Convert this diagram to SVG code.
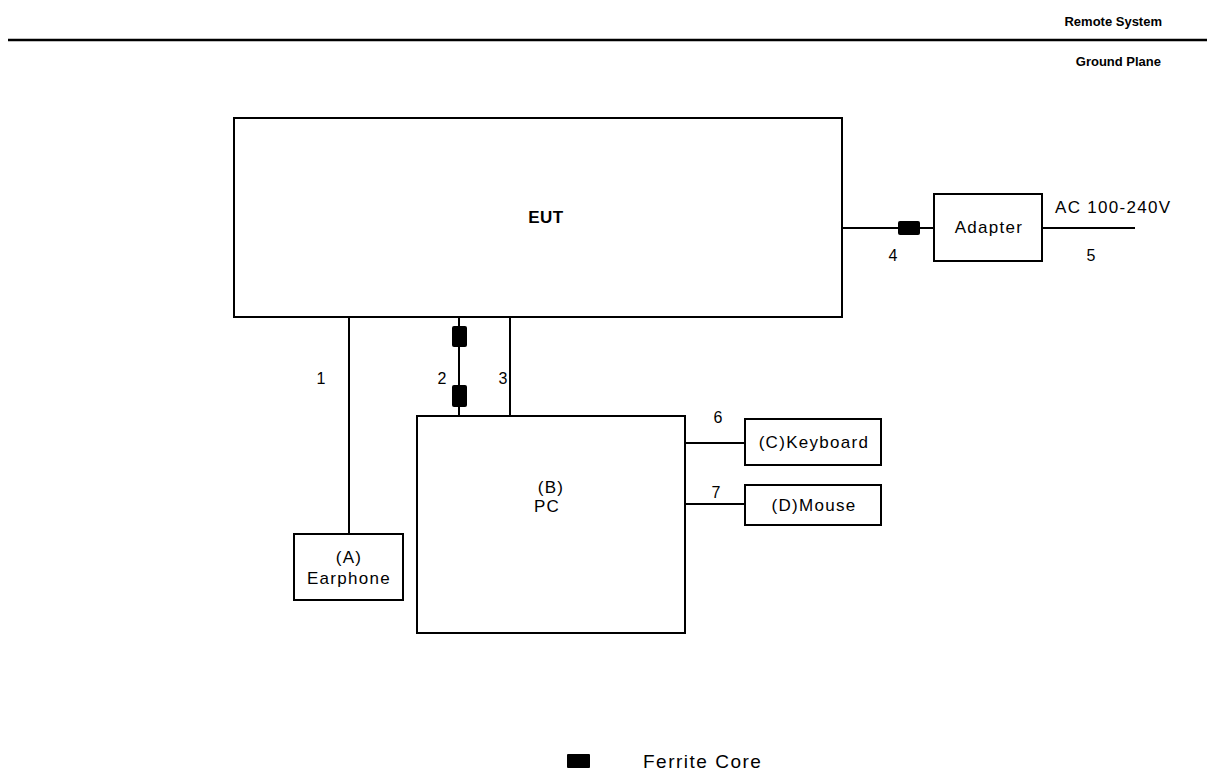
<svg xmlns="http://www.w3.org/2000/svg" width="1207" height="772" viewBox="0 0 1207 772">
<style>
.box{fill:#fff;stroke:#000;stroke-width:2}
.w{stroke:#000;stroke-width:2;fill:none}
.fc{fill:#000}
text{font-family:"Liberation Sans",Arial,sans-serif;font-size:17px;letter-spacing:1.3px;fill:#000}
.c{text-anchor:middle}
.b{font-weight:bold}
.s{font-size:13px;letter-spacing:0}
.n{font-size:16px;letter-spacing:0}
</style>
<rect width="1207" height="772" fill="#fff"/>
<g id="header">
<line x1="8" y1="40" x2="1207" y2="40" stroke="#000" stroke-width="2.5"/>
<text x="1162" y="26" text-anchor="end" class="s b">Remote System</text>
<text x="1161" y="66" text-anchor="end" class="s b">Ground Plane</text>
</g>
<g id="connectors">
<line class="w" x1="842" y1="228" x2="934" y2="228"/>
<line class="w" x1="1042" y1="228" x2="1135" y2="228"/>
<line class="w" x1="349" y1="317" x2="349" y2="534"/>
<line class="w" x1="459" y1="317" x2="459" y2="416"/>
<line class="w" x1="510" y1="317" x2="510" y2="416"/>
<line class="w" x1="685" y1="443" x2="745" y2="443"/>
<line class="w" x1="685" y1="504" x2="745" y2="504"/>
<rect class="fc" x="898" y="221" width="22" height="14" rx="2"/>
<rect class="fc" x="452" y="326" width="15" height="21" rx="2"/>
<rect class="fc" x="452" y="385" width="15" height="22" rx="2"/>
<text x="893" y="261" class="c n">4</text>
<text x="1091" y="261" class="c n">5</text>
<text x="1055" y="213">AC 100-240V</text>
<text x="321" y="384" class="c n">1</text>
<text x="442" y="384" class="c n">2</text>
<text x="503" y="384" class="c n">3</text>
<text x="718" y="423" class="c n">6</text>
<text x="716" y="498" class="c n">7</text>
</g>
<g id="eut">
<rect class="box" x="234" y="118" width="608" height="199"/>
<text x="546" y="223" class="c b" style="font-size:17px;letter-spacing:0.5px">EUT</text>
</g>
<g id="adapter">
<rect class="box" x="934" y="194" width="108" height="67"/>
<text x="989" y="233" class="c">Adapter</text>
</g>
<g id="pc">
<rect class="box" x="417" y="416" width="268" height="217"/>
<text x="551" y="493" class="c">(B)</text>
<text x="547" y="512" class="c">PC</text>
</g>
<g id="keyboard">
<rect class="box" x="745" y="419" width="136" height="46"/>
<text x="814" y="448" class="c">(C)Keyboard</text>
</g>
<g id="mouse">
<rect class="box" x="745" y="485" width="136" height="40"/>
<text x="814" y="511" class="c">(D)Mouse</text>
</g>
<g id="earphone">
<rect class="box" x="294" y="534" width="109" height="66"/>
<text x="349" y="563" class="c">(A)</text>
<text x="349" y="584" class="c">Earphone</text>
</g>
<g id="legend">
<rect class="fc" x="567" y="754" width="23" height="14" rx="1"/>
<text x="643" y="768" style="font-size:19px;letter-spacing:1.5px">Ferrite Core</text>
</g>
</svg>
